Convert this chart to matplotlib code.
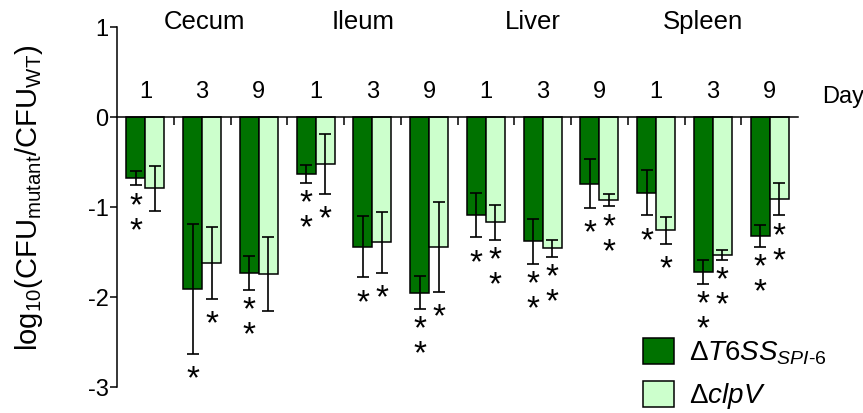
import matplotlib
matplotlib.use("Agg")
import matplotlib.pyplot as plt
import numpy as np

plt.rcParams["font.family"] = ["Liberation Sans", "DejaVu Sans"]
plt.rcParams["mathtext.fontset"] = "custom"
plt.rcParams["mathtext.rm"] = "Liberation Sans"
plt.rcParams["mathtext.it"] = "Liberation Sans:italic"
plt.rcParams["mathtext.bf"] = "Liberation Sans:bold"

tissues = ["Cecum", "Ileum", "Liver", "Spleen"]
days = ["1", "3", "9"]

# log10 competitive index, mean and SD, one entry per tissue/day
t6ss_mean = [-0.68, -1.91, -1.73, -0.63, -1.44, -1.95, -1.09, -1.38, -0.74, -0.84, -1.72, -1.32]
t6ss_err = [0.08, 0.72, 0.19, 0.10, 0.34, 0.18, 0.245, 0.25, 0.27, 0.25, 0.13, 0.12]
clpv_mean = [-0.79, -1.62, -1.74, -0.52, -1.39, -1.44, -1.17, -1.46, -0.92, -1.26, -1.53, -0.91]
clpv_err = [0.25, 0.40, 0.41, 0.33, 0.34, 0.50, 0.195, 0.095, 0.07, 0.15, 0.055, 0.18]

# number of significance stars under each bar
t6ss_stars = [2, 1, 2, 2, 1, 2, 1, 2, 1, 1, 2, 2]
clpv_stars = [0, 1, 0, 1, 1, 1, 2, 2, 2, 1, 2, 2]

DARK = "#007200"
LIGHT = "#ccffcc"

fig = plt.figure(figsize=(8.63, 4.13), dpi=100)
ax = fig.add_axes([117 / 863, 1 - 387 / 413, (798 - 117) / 863, (387 - 27) / 413])

n = len(t6ss_mean)
x = np.arange(n) + 0.5
w = 0.335
err_kw = dict(ecolor="black", elinewidth=1.2, capsize=4, capthick=1.2)

b1 = ax.bar(x - w / 2, t6ss_mean, w, yerr=t6ss_err, color=DARK, edgecolor="black",
            linewidth=1.1, error_kw=err_kw, zorder=2)
b2 = ax.bar(x + w / 2, clpv_mean, w, yerr=clpv_err, color=LIGHT, edgecolor="black",
            linewidth=1.1, error_kw=err_kw, zorder=2)

# significance asterisks stacked below the lower error whisker
# (baseline alignment refers to the last line of the stack)
star_step = 14.4
for xs, means, errs, stars in [(x - w / 2, t6ss_mean, t6ss_err, t6ss_stars),
                               (x + w / 2, clpv_mean, clpv_err, clpv_stars)]:
    for xi, m, e, k in zip(xs, means, errs, stars):
        if k == 0:
            continue
        ax.annotate("\n".join(["*"] * k), xy=(xi, m - e),
                    xytext=(0, -25 - star_step * (k - 1)),
                    textcoords="offset points", ha="center", va="baseline",
                    fontsize=24, linespacing=0.75, annotation_clip=False)

ax.set_xlim(0, n)
ax.set_ylim(-3, 1)
ax.set_yticks([-3, -2, -1, 0, 1])
ax.set_yticklabels(["-3", "-2", "-1", "0", "1"])
ax.set_xticks(np.arange(1, n))
ax.set_xticklabels([])
ax.spines["bottom"].set_position(("data", 0))
ax.spines["top"].set_visible(False)
ax.spines["right"].set_visible(False)
for s in ("left", "bottom"):
    ax.spines[s].set_linewidth(1.1)
ax.tick_params(axis="y", direction="out", length=5, width=1.1, labelsize=17, pad=1)
ax.tick_params(axis="x", direction="out", length=5.5, width=1.1)

# day numbers and tissue names above the zero line
for i in range(n):
    ax.text(x[i], 0.28, days[i % 3], ha="center", va="center", fontsize=17)
name_x = [1.55, 4.33, 7.33, 10.33]
for nx, name in zip(name_x, tissues):
    ax.text(nx, 1.06, name, ha="center", va="center", fontsize=18.5)
ax.text(12.43, 0.22, "Day", ha="left", va="center", fontsize=17, clip_on=False)

ax.set_ylabel(r"log$_{10}$(CFU$_{\mathrm{mutant}}$/CFU$_{\mathrm{WT}}$)", fontsize=21)
ax.yaxis.set_label_coords(-0.105, 0.525)

ax.legend([b1, b2],
          [r"$\Delta\mathit{T6SS}_{\mathit{SPI}\text{-}\mathit{6}}$", r"$\Delta\mathit{clpV}$"],
          loc="upper left", bbox_to_anchor=(643 / 863, 1 - 338 / 413),
          bbox_transform=fig.transFigure, frameon=False, fontsize=20,
          handlelength=1.1, handleheight=1.05, handletextpad=0.55,
          labelspacing=0.5, borderpad=0, borderaxespad=0)

fig.savefig("out.png", dpi=100)
